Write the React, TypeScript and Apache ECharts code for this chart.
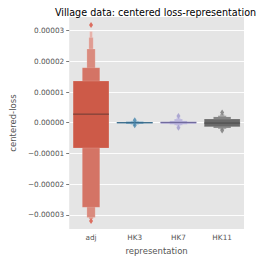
import React, { useEffect, useRef } from "react";
import * as echarts from "echarts";

const categories = ["adj", "HK3", "HK7", "HK11"];
const yTicks = [-3e-5, -2e-5, -1e-5, 0, 1e-5, 2e-5, 3e-5];

// letter-value boxes per category, from widest (level 0) to narrowest: [low, high]
const adjBoxes = [
  [-0.82e-5, 1.355e-5],
  [-2.75e-5, 1.79e-5],
  [-3.08e-5, 2.4e-5],
  [-3.13e-5, 2.77e-5],
  [-3.15e-5, 2.97e-5],
];
const hk3Boxes = [
  [-0.02e-5, 0.02e-5],
  [-0.04e-5, 0.04e-5],
  [-0.06e-5, 0.06e-5],
];
const hk7Boxes = [
  [-0.03e-5, 0.03e-5],
  [-0.05e-5, 0.06e-5],
  [-0.08e-5, 0.12e-5],
  [-0.12e-5, 0.17e-5],
];
const hk11Boxes = [
  [-0.13e-5, 0.12e-5],
  [-0.17e-5, 0.19e-5],
  [-0.2e-5, 0.23e-5],
  [-0.23e-5, 0.28e-5],
];
const medians = [0.28e-5, 0, 0.01e-5, -0.01e-5];
const adjOutliers = [3.18e-5, -3.2e-5];
const hk3Outliers = [0.08e-5, -0.08e-5];
const hk7Outliers = [0.22e-5, -0.16e-5];
const hk11Outliers = [0.33e-5, -0.25e-5];

const allBoxes = [adjBoxes, hk3Boxes, hk7Boxes, hk11Boxes];
const allOutliers = [adjOutliers, hk3Outliers, hk7Outliers, hk11Outliers];

const levelWidths = [0.82, 0.4, 0.19, 0.1, 0.065];
const palettes = [
  ["#CD5A48", "#D47465", "#DA8B7E", "#E09C92", "#E7B2AA"],
  ["#4586AC", "#6A9DBC", "#8FB4CB", "#A9C5D6", "#C2D6E2"],
  ["#9E97CC", "#ACA6D4", "#BAB5DB", "#C8C4E3", "#D6D3EA"],
  ["#6A6A6A", "#7D7D7D", "#909090", "#A3A3A3", "#B6B6B6"],
];
const medianColors = ["#6B3B33", "#2F5F7E", "#6E6799", "#4A4A4A"];
const outlierColors = ["#D9503F", "#4586AC", "#9E97CC", "#777777"];

const FONT = "DejaVu Sans";

export default function App() {
  const ref = useRef<HTMLDivElement>(null);
  useEffect(() => {
    const chart = echarts.init(ref.current!, null, { renderer: "svg" });

    const boxData: any[] = [];
    allBoxes.forEach((boxes, ci) => {
      for (let lv = boxes.length - 1; lv >= 0; lv--) {
        boxData.push([ci, boxes[lv][0], boxes[lv][1], lv]);
      }
    });
    const outlierData: any[] = [];
    allOutliers.forEach((arr, ci) => {
      arr.forEach((v) => outlierData.push({ value: [ci, v], itemStyle: { color: outlierColors[ci] } }));
    });

    chart.setOption({
      animation: false,
      textStyle: { fontFamily: FONT },
      title: {
        text: "Village data: centered loss-representation",
        left: 150.5,
        top: 2,
        textAlign: "center",
        textStyle: { fontSize: 9.6, fontWeight: "normal", color: "#000", fontFamily: FONT },
      },
      grid: { left: 57, right: 18, top: 17, bottom: 29, show: true, backgroundColor: "#E5E5E5", borderWidth: 0 },
      xAxis: {
        type: "category",
        data: categories,
        name: "representation",
        nameLocation: "middle",
        nameGap: 13,
        nameTextStyle: { fontSize: 8.5, color: "#555555", fontFamily: FONT },
        axisLine: { show: false },
        axisTick: { show: true, alignWithLabel: true, length: 3, lineStyle: { color: "#555555", width: 0.8 } },
        axisLabel: { fontSize: 7.3, color: "#555555", margin: 5, fontFamily: FONT },
        splitLine: { show: false },
      },
      yAxis: {
        type: "value",
        min: -3.46e-5,
        max: 3.44e-5,
        name: "centered-loss",
        nameLocation: "middle",
        nameGap: 45,
        nameTextStyle: { fontSize: 8.5, color: "#555555", fontFamily: FONT },
        axisLine: { show: false },
        axisTick: { show: true, length: 3, customValues: yTicks, lineStyle: { color: "#555555", width: 0.8 } },
        axisLabel: {
          fontSize: 7.3,
          color: "#555555",
          margin: 5,
          fontFamily: FONT,
          customValues: yTicks,
          formatter: (v: number) => {
            const s = Math.abs(v).toFixed(5);
            return v < -1e-12 ? "\u2212" + s : s;
          },
        },
        splitLine: { show: true, lineStyle: { color: "#FFFFFF", width: 0.9 } },
      },
      series: [
        {
          type: "custom",
          data: boxData,
          encode: { x: 0, y: [1, 2] },
          renderItem: (params: any, api: any) => {
            const c = api.value(0);
            const lo = api.value(1);
            const hi = api.value(2);
            const lv = api.value(3);
            const pTop = api.coord([c, hi]);
            const pBot = api.coord([c, lo]);
            const band = api.size([1, 0])[0];
            const w = band * levelWidths[lv];
            const h = Math.max(pBot[1] - pTop[1], 1);
            return {
              type: "rect",
              shape: { x: pTop[0] - w / 2, y: pTop[1], width: w, height: h },
              style: { fill: palettes[c][lv], stroke: "rgba(255,255,255,0.25)", lineWidth: 0.6 },
            };
          },
          z: 2,
        },
        {
          type: "custom",
          data: medians.map((m, i) => [i, m]),
          encode: { x: 0, y: 1 },
          renderItem: (params: any, api: any) => {
            const c = api.value(0);
            const p = api.coord([c, api.value(1)]);
            const band = api.size([1, 0])[0];
            const w = band * levelWidths[0];
            return {
              type: "line",
              shape: { x1: p[0] - w / 2, y1: p[1], x2: p[0] + w / 2, y2: p[1] },
              style: { stroke: medianColors[c], lineWidth: 1 },
            };
          },
          z: 3,
        },
        {
          type: "scatter",
          data: outlierData,
          symbol: "diamond",
          symbolSize: [4, 6],
          z: 4,
        },
      ],
    });
    return () => chart.dispose();
  }, []);
  return <div ref={ref} style={{ position: "absolute", left: 0, top: 0, width: 262, height: 260 }} />;
}
